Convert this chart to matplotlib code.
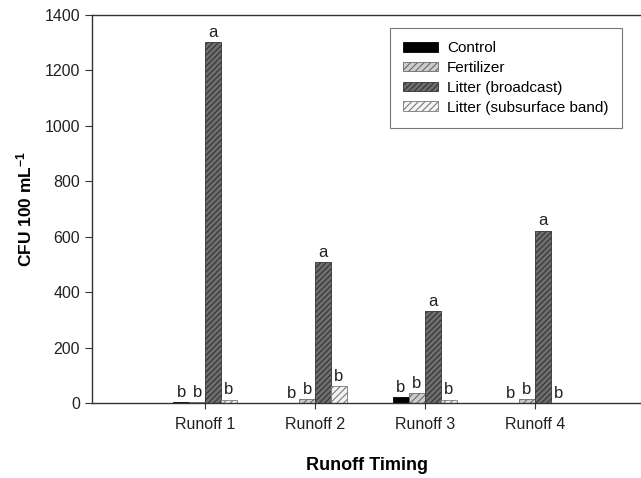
import numpy as np
import matplotlib as mpl
import matplotlib.pyplot as plt

mpl.rcParams['font.family'] = ['Liberation Sans', 'DejaVu Sans']
mpl.rcParams['hatch.linewidth'] = 0.8

runoffs = ['Runoff 1', 'Runoff 2', 'Runoff 3', 'Runoff 4']
treatments = ['Control', 'Fertilizer', 'Litter (broadcast)', 'Litter (subsurface band)']
control = [2, 0, 22, 0]
fertilizer = [3, 13, 36, 15]
broadcast = [1303, 507, 330, 622]
subsurface = [12, 61, 12, 0]
letters = [['b', 'b', 'a', 'b'],
           ['b', 'b', 'a', 'b'],
           ['b', 'b', 'a', 'b'],
           ['b', 'b', 'a', 'b']]

dpi = 100
fig = plt.figure(dpi=dpi, figsize=(641 / dpi, 478 / dpi))
ax = fig.add_axes([0.1435, 0.157, 0.857, 0.8117])

styles = [dict(color='black', edgecolor='black', hatch=None),
          dict(color='#cccccc', edgecolor='#6a6a6a', hatch='/////'),
          dict(color='#6e6e6e', edgecolor='#333333', hatch='//////'),
          dict(color='#f4f4f4', edgecolor='#7a7a7a', hatch='/////')]

xs = np.arange(1, len(runoffs) + 1)
w = 0.145
series = [control, fertilizer, broadcast, subsurface]
for k, vals in enumerate(series):
    pos = xs + (k - 1.5) * w
    st = styles[k]
    ax.bar(pos, vals, w, facecolor=st['color'], edgecolor=st['edgecolor'],
           hatch=st['hatch'], linewidth=0.6, label=treatments[k], zorder=2)
    for i in range(len(xs)):
        ax.text(pos[i], vals[i] + 8, letters[i][k], ha='center', va='bottom',
                fontsize=12, color='#222222')

ax.set_xlim(-0.03, 4.97)
ax.set_ylim(0, 1400)
ax.set_yticks(np.arange(0, 1401, 200))
ax.set_xticks(xs)
ax.set_xticklabels(runoffs, fontsize=11.5)
ax.tick_params(axis='y', labelsize=11.5, direction='out', length=5, colors='#333333')
ax.tick_params(axis='x', direction='inout', length=8, colors='#333333', pad=6)
for lab in ax.get_xticklabels() + ax.get_yticklabels():
    lab.set_color('#222222')
ax.spines['right'].set_visible(False)
for s in ['left', 'bottom', 'top']:
    ax.spines[s].set_color('#333333')
    ax.spines[s].set_linewidth(1.0)

ax.set_ylabel('CFU 100 mL$\\mathregular{^{-1}}$', fontsize=12.5, fontweight='bold', labelpad=7)
ax.set_xlabel('Runoff Timing', fontsize=13, fontweight='bold', labelpad=18)

leg = ax.legend(loc='upper right', bbox_to_anchor=(0.964, 0.966), borderaxespad=0,
                fontsize=11, frameon=True, fancybox=False, edgecolor='#555555',
                handlelength=2.3, handleheight=0.6, labelspacing=0.38,
                borderpad=0.85, handletextpad=0.6)
leg.get_frame().set_linewidth(0.8)

fig.savefig('out.png', dpi=dpi)
